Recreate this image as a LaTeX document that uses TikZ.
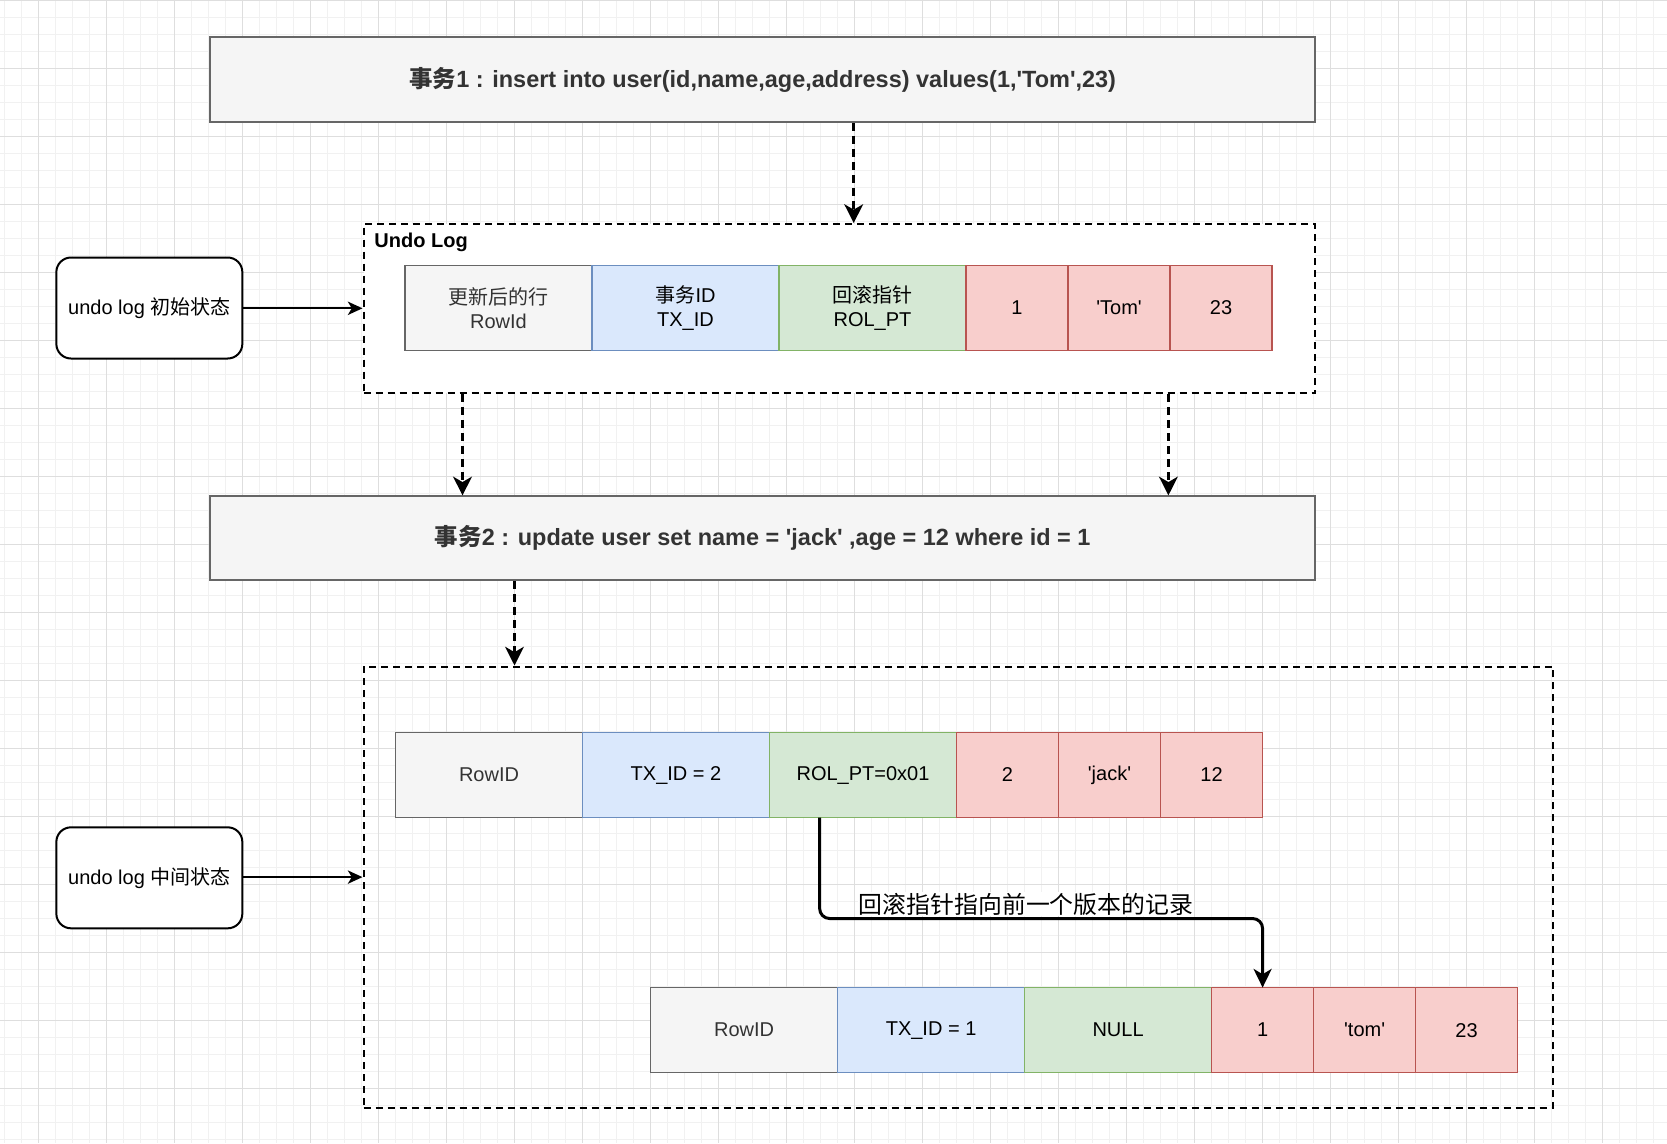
\documentclass[tikz,border=0pt]{standalone}
\usepackage{fontspec}
\setmainfont{Liberation Sans}[Ligatures=TeXOff]
\newfontfamily\cjk{Noto Sans CJK SC}
\usetikzlibrary{arrows.meta}

\definecolor{gfill}{HTML}{F5F5F5}
\definecolor{gline}{HTML}{666666}
\definecolor{bfill}{HTML}{DAE8FC}
\definecolor{bline}{HTML}{6C8EBF}
\definecolor{vfill}{HTML}{D5E8D4}
\definecolor{vline}{HTML}{82B366}
\definecolor{rfill}{HTML}{F8CECC}
\definecolor{rline}{HTML}{B85450}
\definecolor{txtgray}{HTML}{333333}
\definecolor{gridmajor}{HTML}{DEDEDE}
\definecolor{gridminor}{HTML}{F1F1F1}

\tikzset{
  cellbase/.style={line width=1.2pt, minimum height=63.75pt, inner sep=0pt, outer sep=0pt,
    anchor=north west, align=center, font=\fontsize{15}{18}\selectfont},
  wide/.style={cellbase, minimum width=140.25pt},
  narrow/.style={cellbase, minimum width=76.5pt},
  graycell/.style={wide, draw=gline, fill=gfill, text=txtgray},
  bluecell/.style={wide, draw=bline, fill=bfill},
  greencell/.style={wide, draw=vline, fill=vfill},
  redcell/.style={narrow, draw=rline, fill=rfill},
  titlebox/.style={draw=gline, fill=gfill, line width=1.5pt, anchor=north west, inner sep=0pt,
    minimum width=828.45pt, text=txtgray, font=\fontsize{17.6}{21}\selectfont\bfseries},
  statebox/.style={draw=black, fill=white, line width=1.5pt, rounded corners=11pt,
    minimum width=139.5pt, minimum height=75.75pt, inner sep=0pt, font=\fontsize{15}{18}\selectfont},
  container/.style={draw=black, line width=1.5pt, dash pattern=on 5.25pt off 3.75pt,
    anchor=north west, inner sep=0pt},
  dasharrow/.style={line width=2.25pt, dash pattern=on 6pt off 3.75pt,
    -{Stealth[length=14pt, width=14pt, inset=4pt]}},
  thinarrow/.style={line width=1.5pt, -{Stealth[length=11pt, width=10pt, inset=3pt]}},
  rbarrow/.style={line width=2.25pt, rounded corners=7.5pt,
    -{Stealth[length=14pt, width=13.5pt, inset=4pt]}},
}

\begin{document}
\begin{tikzpicture}[x=0.75pt, y=-0.75pt]
\useasboundingbox (0,0) rectangle (1667,1143);
\fill[white] (0,0) rectangle (1667,1143);

% background grid: fine lines every 17px, heavier every 68px
\foreach \i in {0,...,98} \draw[gridminor, line width=0.75pt] ({4.3+17*\i},0) -- ({4.3+17*\i},1143);
\foreach \j in {0,...,67} \draw[gridminor, line width=0.75pt] (0,{17*\j}) -- (1667,{17*\j});
\foreach \i in {0,...,23} \draw[gridmajor, line width=0.75pt] ({38.3+68*\i},0) -- ({38.3+68*\i},1143);
\foreach \j in {0,...,16} \draw[gridmajor, line width=0.75pt] (0,{68*\j}) -- (1667,{68*\j});

% transaction boxes
\node[titlebox, minimum height=63.8pt] (t1) at (209.4,36.1)
  {{\cjk\bfseries 事务}1 : insert into user(id,name,age,address) values(1,'Tom',23)};
\node[titlebox, minimum height=63pt] (t2) at (209.4,495.4)
  {{\cjk\bfseries 事务}2 : update user set name = 'jack' ,age = 12 where id = 1};

% undo log containers
\node[container, fill=white, minimum width=713.6pt, minimum height=127pt] (c1) at (362.5,223) {};
\node[container, minimum width=892.2pt, minimum height=330.9pt] (c2) at (362.5,665.5) {};
\node[anchor=west, inner sep=0pt, font=\fontsize{15}{18}\selectfont\bfseries] (ultitle) at (374.2,242.2) {Undo Log};

% state boxes
\node[statebox] (s1) at (149.35,308) {undo log {\cjk 初始状态}};
\node[statebox] (s2) at (149.35,877.8) {undo log {\cjk 中间状态}};

% initial record
\node[graycell]  (r1a) at (405,265.5)  {{\cjk 更新后的行}\\RowId};
\node[bluecell]  (r1b) at (592,265.5)  {{\cjk 事务}ID\\TX\_ID};
\node[greencell] (r1c) at (779,265.5)  {{\cjk 回滚指针}\\ROL\_PT};
\node[redcell]   (r1d) at (966,265.5)  {1};
\node[redcell]   (r1e) at (1068,265.5) {'Tom'};
\node[redcell]   (r1f) at (1170,265.5) {23};

% updated record
\node[graycell]  (r2a) at (395.5,732.5)  {RowID};
\node[bluecell]  (r2b) at (582.5,732.5)  {TX\_ID = 2};
\node[greencell] (r2c) at (769.5,732.5)  {ROL\_PT=0x01};
\node[redcell]   (r2d) at (956.5,732.5)  {2};
\node[redcell]   (r2e) at (1058.5,732.5) {'jack'};
\node[redcell]   (r2f) at (1160.5,732.5) {12};

% previous version
\node[graycell]  (r3a) at (650.6,987.6)  {RowID};
\node[bluecell]  (r3b) at (837.6,987.6)  {TX\_ID = 1};
\node[greencell] (r3c) at (1024.6,987.6) {NULL};
\node[redcell]   (r3d) at (1211.6,987.6) {1};
\node[redcell]   (r3e) at (1313.6,987.6) {'tom'};
\node[redcell]   (r3f) at (1415.6,987.6) {23};

% flow arrows
\coordinate (ax1) at (853.7,0);
\coordinate (ax2) at (462.5,0);
\coordinate (ax3) at (1168.4,0);
\coordinate (ax4) at (514.5,0);
\coordinate (ay1) at (0,308.3);
\coordinate (ay2) at (0,877.1);
\draw[dasharrow] (t1.south -| ax1) -- (c1.north -| ax1);
\draw[dasharrow] (c1.south -| ax2) -- (t2.north -| ax2);
\draw[dasharrow] (c1.south -| ax3) -- (t2.north -| ax3);
\draw[dasharrow] (t2.south -| ax4) -- (c2.north -| ax4);

\draw[thinarrow] (ay1 -| s1.east) -- (ay1 -| c1.west);
\draw[thinarrow] (ay2 -| s2.east) -- (ay2 -| c2.west);

% roll pointer to the older version
\coordinate (rbstart) at ([xshift=37.6pt]r2c.south west);
\coordinate (rbmid) at (0,918.5);
\draw[rbarrow] (rbstart) -- (rbstart |- rbmid) -- (r3d.north |- rbmid) -- (r3d.north);
\node[fill=white, inner sep=1pt, anchor=base, font=\cjk\fontsize{17.9}{21}\selectfont] (rblabel) at (1026,913)
  {回滚指针指向前一个版本的记录};
\end{tikzpicture}
\end{document}
